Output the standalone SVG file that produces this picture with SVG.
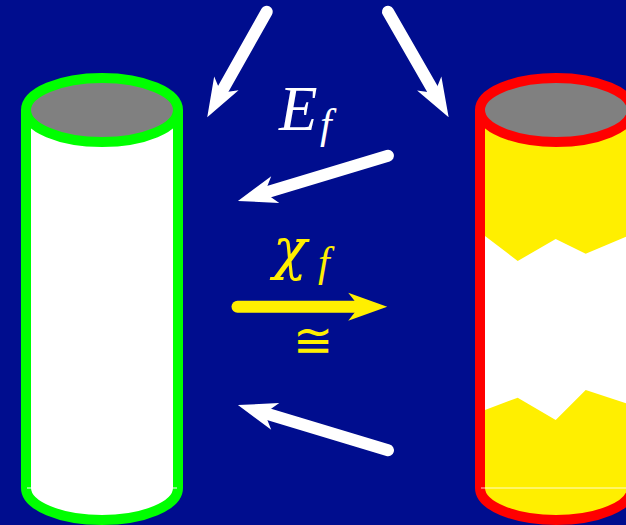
<svg xmlns="http://www.w3.org/2000/svg" width="626" height="525" viewBox="0 0 626 525">
<style>
.wline{fill:none;stroke:#fff;stroke-width:12;stroke-linecap:round}
.yline{fill:none;stroke:#FFEF00;stroke-width:12;stroke-linecap:round}
.math{font-family:"Liberation Serif","DejaVu Serif",serif;font-style:italic}
.greek{font-family:"DejaVu Serif",serif;font-style:italic}
</style>
<defs>
<marker id="hw" markerUnits="userSpaceOnUse" orient="auto" refX="0" refY="0" markerWidth="60" markerHeight="60" viewBox="-20 -20 60 40" overflow="visible">
<path d="M26,0 L-13,-14 L-2,0 L-13,14 Z" fill="#fff"/>
</marker>
<marker id="hy" markerUnits="userSpaceOnUse" orient="auto" refX="0" refY="0" markerWidth="60" markerHeight="60" viewBox="-20 -20 60 40" overflow="visible">
<path d="M26,0 L-13,-14 L-2,0 L-13,14 Z" fill="#FFEF00"/>
</marker>
</defs>
<rect width="626" height="525" fill="#000D8E"/>
<g id="cylinder-left">
<path d="M26,110 L178,110 L178,488 A76,32 0 0 1 26,488 Z" fill="#fff"/>
<path d="M26,110 V488 A76,32 0 0 0 178,488 V110" fill="none" stroke="#00FF00" stroke-width="10"/>
<ellipse cx="102" cy="110" rx="76" ry="32" fill="#808080" stroke="#00FF00" stroke-width="10"/>
<line x1="27" y1="488" x2="177" y2="488" stroke="#fff" stroke-width="1"/>
</g>
<g id="cylinder-right">
<path d="M480,110 L632,110 L632,488 A76,32 0 0 1 480,488 Z" fill="#FFEF00"/>
<polygon points="485,236 517.7,261 555.7,239 585.7,253.7 626,236.7 626,403.3 585.7,390 555.7,420 517.7,397.7 485,410" fill="#fff"/>
<path d="M480,110 V488 A76,32 0 0 0 632,488 V110" fill="none" stroke="#FF0000" stroke-width="10"/>
<ellipse cx="556" cy="110" rx="76" ry="32" fill="#808080" stroke="#FF0000" stroke-width="10"/>
<line x1="481" y1="488" x2="626" y2="488" stroke="#fff" stroke-width="1" opacity="0.8"/>
</g>
<g id="connectors">
<path class="wline" d="M266.7,11.7 L220,94.6" marker-end="url(#hw)"/>
<path class="wline" d="M388,11.7 L435.7,94.7" marker-end="url(#hw)"/>
<path class="wline" d="M388,155.7 L262.8,193.4" marker-end="url(#hw)"/>
<path class="yline" d="M237.5,306.7 L361.2,306.7" marker-end="url(#hy)"/>
<path class="wline" d="M388,450.3 L262.8,412.6" marker-end="url(#hw)"/>
</g>
<g id="labels">
<text class="math" x="279" y="130" font-size="63" fill="#fff">E</text>
<text class="math" x="320" y="138" font-size="42" fill="#fff">f</text>
<text class="greek" x="273" y="268" font-size="56" fill="#FFEF00">χ</text>
<text class="math" x="318" y="276" font-size="42" fill="#FFEF00">f</text>
<text x="312.5" y="357" font-size="48" fill="#FFEF00" text-anchor="middle" font-family="'DejaVu Serif',serif">≅</text>
</g>
</svg>
